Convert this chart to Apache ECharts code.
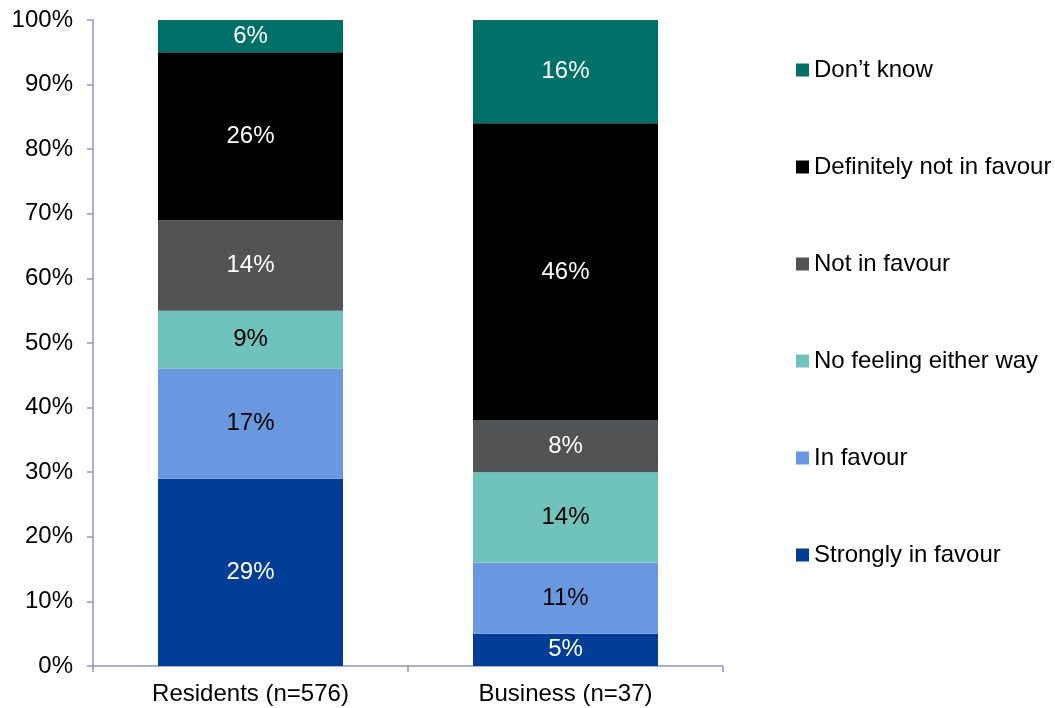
<!DOCTYPE html>
<html>
<head>
<meta charset="utf-8">
<script src="https://cdn.jsdelivr.net/npm/echarts@6/dist/echarts.min.js"></script>
<style>
  html, body { margin: 0; padding: 0; background: #fff; }
  #chart { width: 1055px; height: 708px; }
</style>
</head>
<body>
<div id="chart"></div>
<script>
// Survey groups on the x axis
const categories = ['Residents (n=576)', 'Business (n=37)'];

// Response shares (%) per group, bottom of stack first
const stronglyInFavour   = [29, 5];
const inFavour           = [17, 11];
const noFeeling          = [9, 14];
const notInFavour        = [14, 8];
const definitelyNot      = [26, 46];
const dontKnow           = [6, 16];

const seriesNames = [
  'Strongly in favour',
  'In favour',
  'No feeling either way',
  'Not in favour',
  'Definitely not in favour',
  'Don\u2019t know'
];
const seriesValues = [stronglyInFavour, inFavour, noFeeling, notInFavour, definitelyNot, dontKnow];
const seriesColors = ['#023e97', '#6a98e0', '#70c3bb', '#525355', '#000000', '#007068'];
const labelColors  = ['#ffffff', '#000000', '#000000', '#ffffff', '#ffffff', '#ffffff'];

const yTicks = [0, 10, 20, 30, 40, 50, 60, 70, 80, 90, 100];

const FONT = '"Liberation Sans", Arial, sans-serif';
const FONT_SIZE = 24;
const AXIS_COLOR = '#8f96c8';

const chart = echarts.init(document.getElementById('chart'), null, { renderer: 'canvas' });

const series = seriesNames.map((name, i) => ({
  name: name,
  type: 'bar',
  stack: 'total',
  barWidth: 185,
  data: seriesValues[i],
  itemStyle: { color: seriesColors[i] },
  label: {
    show: true,
    position: 'inside',
    color: labelColors[i],
    fontFamily: FONT,
    fontSize: FONT_SIZE,
    formatter: p => p.value + '%'
  },
  emphasis: { disabled: true }
}));

chart.setOption({
  animation: false,
  backgroundColor: '#ffffff',
  grid: { left: 93, right: 332, top: 20, bottom: 42 },
  legend: {
    orient: 'vertical',
    left: 796,
    top: 58,
    padding: 0,
    icon: 'rect',
    itemWidth: 13,
    itemHeight: 13,
    itemGap: 73,
    data: seriesNames.slice().reverse(),
    textStyle: { fontFamily: FONT, fontSize: FONT_SIZE, color: '#000', lineHeight: 24 },
    selectedMode: false
  },
  xAxis: {
    type: 'category',
    data: categories,
    axisLine: { show: true, lineStyle: { color: AXIS_COLOR, width: 1.5 } },
    axisTick: { show: true, length: 6, lineStyle: { color: AXIS_COLOR, width: 1.5 } },
    axisLabel: { fontFamily: FONT, fontSize: FONT_SIZE, color: '#000', margin: 16 }
  },
  yAxis: {
    type: 'value',
    min: 0,
    max: 100,
    interval: 10,
    axisLine: { show: true, lineStyle: { color: AXIS_COLOR, width: 1.5 } },
    axisTick: { show: true, length: 6, lineStyle: { color: AXIS_COLOR, width: 1.5 } },
    splitLine: { show: false },
    axisLabel: {
      fontFamily: FONT,
      fontSize: FONT_SIZE,
      color: '#000',
      margin: 20,
      formatter: v => (yTicks.indexOf(v) >= 0 ? v + '%' : '')
    }
  },
  series: series
});
</script>
</body>
</html>
